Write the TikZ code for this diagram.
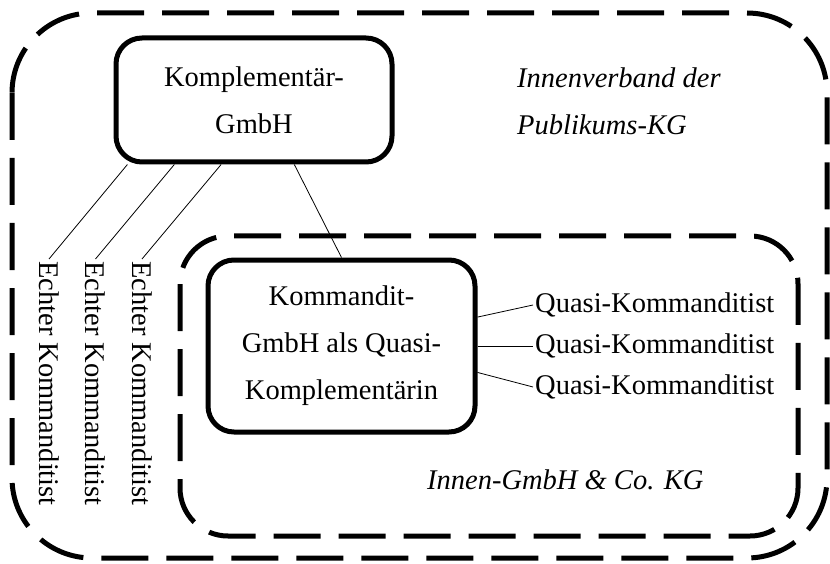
\documentclass[tikz,border=0pt]{standalone}
\usepackage{fontspec}
\setmainfont{Liberation Serif}

\begin{document}
\begin{tikzpicture}[
  x=1pt, y=-1pt,
  node distance=41pt,
  every node/.style={font=\fontsize{28.5}{47}\selectfont, inner sep=2pt},
  firmbox/.style={draw, line width=5pt, rounded corners=26pt, align=center},
  ]
  \tikzset{%
    verband/.style={
      dash pattern=on 47pt off 18pt,
      line width=5pt,
    },
    member/.style={
      anchor=west,
    },
    areatext/.style={
      anchor=west,
      align=left,
      font=\fontsize{28.5}{47}\selectfont\itshape,
    },
    tie/.style={
      line width=0.8pt,
    },
  }
  \useasboundingbox (0,0) rectangle (830,564);
  %Frames
  \draw[verband, rounded corners=80pt] (12,13) rectangle (827,558);
  \draw[verband, rounded corners=48pt] (180,236) rectangle (798,536);
  %Nodes
  \node[firmbox, minimum width=276pt, minimum height=124pt](kgmbh) at (254,100){Komplementär-\\GmbH};
  \node[firmbox, minimum width=267pt, minimum height=172pt](kdgmbh) at (341.5,346){Kommandit-\\GmbH als Quasi-\\Komplementärin};
  \node[member, rotate=-90](e1) at (49,259){Echter Kommanditist};
  \node[member, rotate=-90](e2) at (95.5,259){Echter Kommanditist};
  \node[member, rotate=-90](e3) at (142,259){Echter Kommanditist};
  \node[member](q1) at (533,305){Quasi-Kommanditist};
  \node(q2)[below of=q1]{Quasi-Kommanditist};
  \node(q3)[below of=q2]{Quasi-Kommanditist};
  \node[areatext](publ) at (515,101){Innenverband der\\Publikums-KG};
  \node[areatext](innen) at (425,480){Innen-GmbH \& Co. KG};
  %Lines
  \draw[tie]
    (kgmbh.207) edge (e1.west)
    (kgmbh.219) edge (e2.west)
    (kgmbh.243) edge (e3.west)
    (kgmbh.302) edge (kdgmbh.north)
    (kdgmbh.12) edge (q1.west)
    (kdgmbh.east) edge (q2.west)
    (kdgmbh.-11) edge (q3.west)
    ;
\end{tikzpicture}
\end{document}
